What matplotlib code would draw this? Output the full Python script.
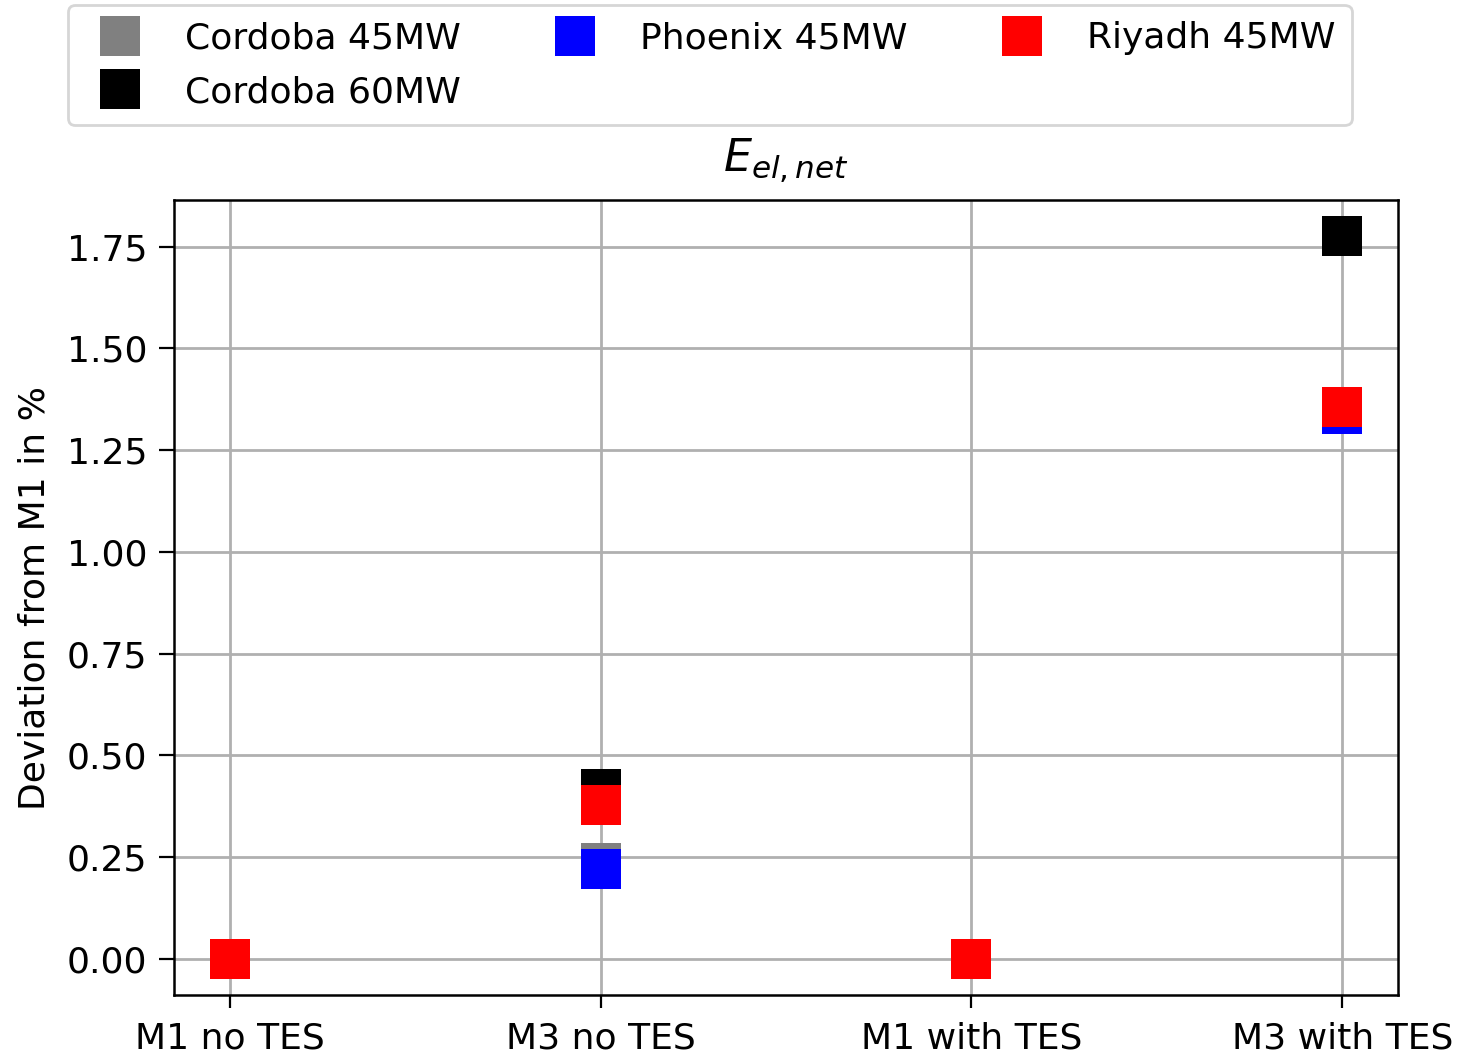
import matplotlib
matplotlib.use("Agg")
import matplotlib.pyplot as plt

categories = ["M1 no TES", "M3 no TES", "M1 with TES", "M3 with TES"]
series_names = ["Cordoba 45MW", "Cordoba 60MW", "Phoenix 45MW", "Riyadh 45MW"]
colors = ["gray", "black", "blue", "red"]
cordoba45 = [0.0, 0.236, 0.0, 1.355]
cordoba60 = [0.0, 0.417, 0.0, 1.776]
phoenix45 = [0.0, 0.221, 0.0, 1.339]
riyadh45 = [0.0, 0.378, 0.0, 1.356]
values = [cordoba45, cordoba60, phoenix45, riyadh45]
yticks = [0, 0.25, 0.5, 0.75, 1.0, 1.25, 1.5, 1.75]

FS = 26
plt.rcParams["font.family"] = "DejaVu Sans"
plt.rcParams["mathtext.fontset"] = "dejavusans"

fig = plt.figure(figsize=(14.58, 10.53), dpi=100)
ax = fig.add_axes([174/1458, 58/1053, (1398-174)/1458, (995-200)/1053])

x = list(range(len(categories)))
handles = []
for name, col, vals in zip(series_names, colors, values):
    h, = ax.plot(x, vals, linestyle="none", marker="s", markersize=29,
                 markeredgewidth=0, color=col, label=name)
    handles.append(h)

ax.set_xticks(x)
ax.set_xticklabels(categories, fontsize=FS)
ax.set_yticks(yticks)
ax.set_yticklabels(["%.2f" % v for v in yticks], fontsize=FS)
ax.tick_params(axis="x", length=9, width=1.6, pad=10)
ax.tick_params(axis="y", length=11, width=1.6, pad=8)
ax.grid(True, color="#b0b0b0", linewidth=2)
ax.set_axisbelow(True)
for s in ax.spines.values():
    s.set_linewidth(1.8)
ax.set_ylabel("Deviation from M1 in %", fontsize=FS, labelpad=11)
ax.set_title(r"$E_{el,net}$", fontsize=32, pad=20)

leg = fig.legend(handles=handles, loc="upper left", bbox_to_anchor=(68/1458, 1 - 5/1053),
                 ncol=3, fontsize=FS, frameon=True, fancybox=True, borderaxespad=0,
                 handletextpad=0.8, columnspacing=2.16, markerscale=1.0,
                 handlelength=2.0, borderpad=0.45, labelspacing=0.55)
leg.get_frame().set_linewidth(2)
leg.get_frame().set_edgecolor("#cccccc")

fig.savefig("out.png", dpi=100)
